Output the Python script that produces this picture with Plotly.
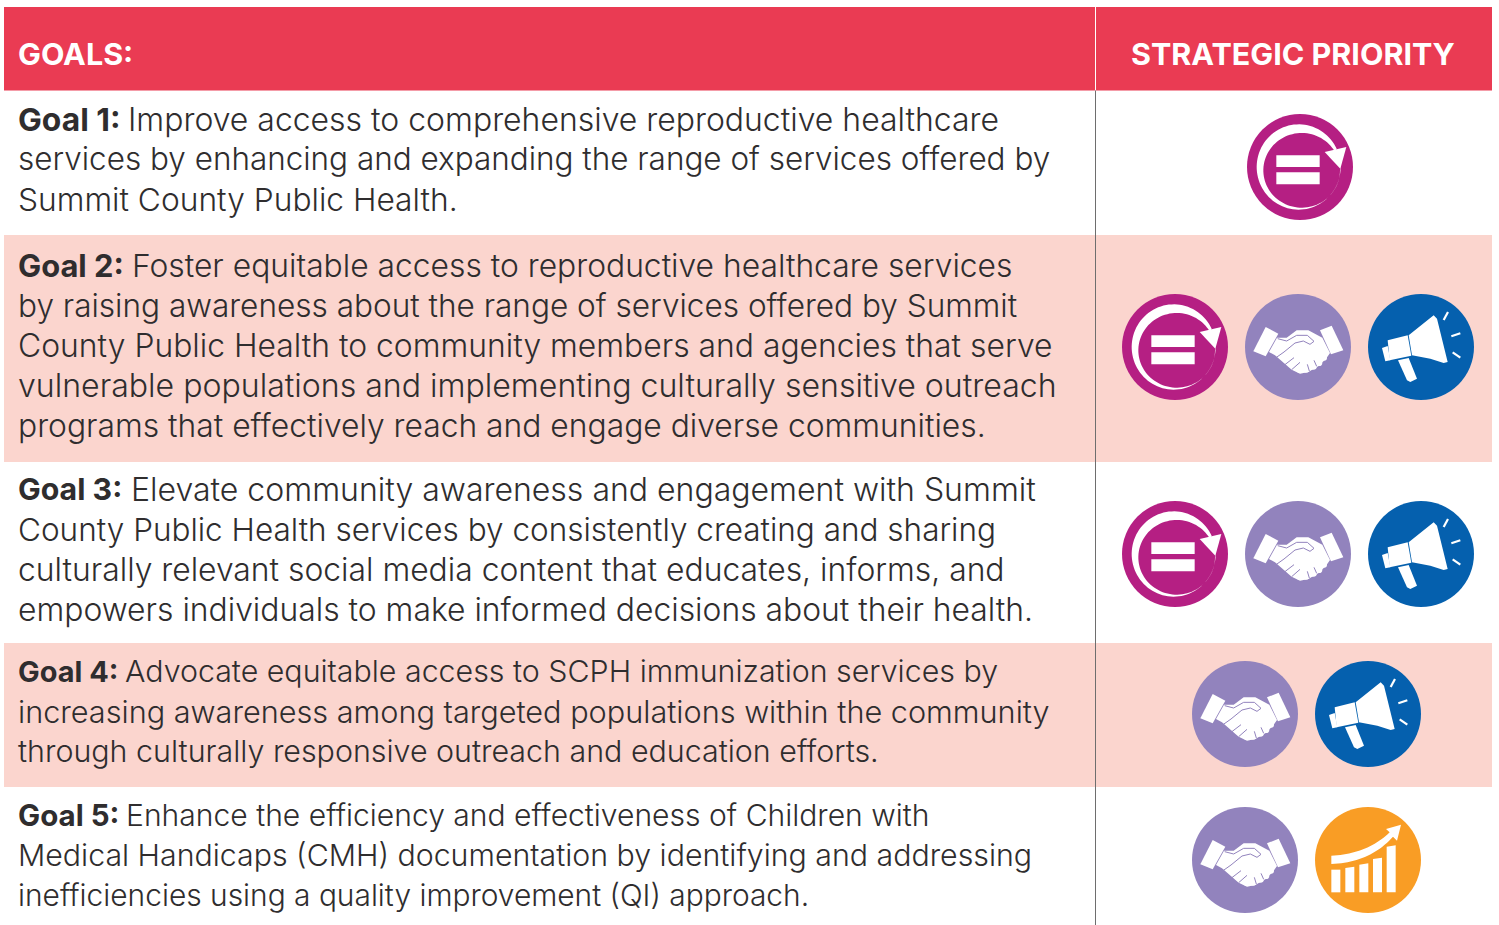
import numpy as np
import plotly.graph_objects as go

HEADERS = ["GOALS:", "STRATEGIC PRIORITY"]
GOAL_LABELS = ["Goal 1:", "Goal 2:", "Goal 3:", "Goal 4:", "Goal 5:"]
GOAL_LINES = [
    ["Improve access to comprehensive reproductive healthcare",
     "services by enhancing and expanding the range of services offered by",
     "Summit County Public Health."],
    ["Foster equitable access to reproductive healthcare services",
     "by raising awareness about the range of services offered by Summit",
     "County Public Health to community members and agencies that serve",
     "vulnerable populations and implementing culturally sensitive outreach",
     "programs that effectively reach and engage diverse communities."],
    ["Elevate community awareness and engagement with Summit",
     "County Public Health services by consistently creating and sharing",
     "culturally relevant social media content that educates, informs, and",
     "empowers individuals to make informed decisions about their health."],
    ["Advocate equitable access to SCPH immunization services by",
     "increasing awareness among targeted populations within the community",
     "through culturally responsive outreach and education efforts."],
    ["Enhance the efficiency and effectiveness of Children with",
     "Medical Handicaps (CMH) documentation by identifying and addressing",
     "inefficiencies using a quality improvement (QI) approach."],
]
LINE_SIZES = [
    [31.95, 31.46, 31.73],
    [31.8, 31.55, 31.85, 32.07, 31.8],
    [32.0, 31.5, 31.84, 31.85],
    [30.35, 30.65, 30.4],
    [30.07, 30.3, 29.9],
]
LABEL_SIZES = [31.8, 30.9, 30.3, 28.9, 29.5]
GOAL_ICONS = [
    ["equity"],
    ["equity", "partner", "voice"],
    ["equity", "partner", "voice"],
    ["partner", "voice"],
    ["partner", "growth"],
]
ROW_EDGES = [91, 235, 462, 643, 787, 925]
ROW_FILLS = ["#FFFFFF", "#FBD5CE", "#FFFFFF", "#FBD5CE", "#FFFFFF"]
FIRST_LINE_Y = [119, 265, 489, 671, 815]
FIRST_LINE_X = [126, 130, 129, 123, 124]
ICON_Y = [167, 347, 554, 714, 860]
ICON_X = [[1300], [1175, 1298, 1421], [1175, 1298, 1421], [1245, 1368], [1245, 1368]]

RED, TEXT = "#EA3B53", "#2F2D2E"
ICON_FILL = {"equity": "#B51F83", "partner": "#9283BD", "voice": "#0560AE", "growth": "#F99D25"}
FONT = "Inter"
HEAD_SIZE = 30.5

shapes, annotations = [], []


def rect(x0, y0, x1, y1, fill):
    shapes.append(dict(type="rect", x0=x0, y0=y0, x1=x1, y1=y1,
                       fillcolor=fill, line_width=0, layer="below"))


def poly(points, fill, line=None, width=0, closed=True):
    path = "M" + " L".join(f"{x:.2f},{y:.2f}" for x, y in points) + (" Z" if closed else "")
    shapes.append(dict(type="path", path=path, fillcolor=fill if closed else "rgba(0,0,0,0)",
                       line=dict(color=line or "rgba(0,0,0,0)", width=width), layer="above"))


def disc(cx, cy, r, fill):
    shapes.append(dict(type="circle", x0=cx - r, x1=cx + r, y0=cy - r, y1=cy + r,
                       fillcolor=fill, line_width=0, layer="above"))


def local(cx, cy, pts, oz):
    """Sketch coordinates are 3x-scale points around origin oz."""
    return [(cx + (x - oz[0]) / 3, cy + (y - oz[1]) / 3) for x, y in pts]


def quad(p0, p1, p2, n=24):
    t = np.linspace(0, 1, n)
    return [((1 - s) ** 2 * p0[0] + 2 * s * (1 - s) * p1[0] + s ** 2 * p2[0],
             (1 - s) ** 2 * p0[1] + 2 * s * (1 - s) * p1[1] + s ** 2 * p2[1]) for s in t]


def icon_equity(cx, cy, col):
    oz = (226, 200)
    a = np.radians(np.linspace(-25, -360, 90))
    outer = [(222 + 126 * np.cos(t), 200 + 128 * np.sin(t)) for t in a]
    b = np.radians(np.linspace(-360, -30, 90))
    inner = [(231 + 115 * np.cos(t), 210 + 112 * np.sin(t)) for t in b]
    poly(local(cx, cy, outer + inner, oz), "#FFFFFF")
    poly(local(cx, cy, [(300, 155), (365, 140), (347, 205)], oz), "#FFFFFF")
    poly(local(cx, cy, [(155, 165), (285, 165), (285, 200), (155, 200)], oz), "#FFFFFF")
    poly(local(cx, cy, [(155, 216), (285, 216), (285, 252), (155, 252)], oz), "#FFFFFF")


def icon_partner(cx, cy, col):
    oz = (594, 200)
    poly(local(cx, cy, [(497, 140), (535, 160), (497, 228), (460, 213)], oz), "#FFFFFF")
    poly(local(cx, cy, [(695, 136), (730, 210), (693, 222), (660, 150)], oz), "#FFFFFF")
    poly(local(cx, cy, [(531, 172), (560, 172), (590, 150), (625, 150), (667, 172), (690, 218),
                        (678, 235), (655, 258), (625, 275), (600, 280), (575, 268), (525, 225), (507, 215)], oz),
         "#FFFFFF")
    for x, y, r in [(600, 268, 10), (618, 266, 11), (640, 257, 11), (657, 247, 10), (672, 232, 9)]:
        p = local(cx, cy, [(x, y)], oz)[0]
        disc(p[0], p[1], r / 3, "#FFFFFF")
    poly(local(cx, cy, [(528, 232), (552, 215), (585, 188), (610, 182), (630, 192), (642, 183), (622, 165),
                        (590, 165), (560, 182), (533, 175)], oz), "rgba(0,0,0,0)", col, 1, closed=False)
    for seg in [[(552, 255), (582, 232)], [(575, 268), (600, 246)], [(628, 272), (622, 252)], [(650, 258), (642, 240)]]:
        poly(local(cx, cy, seg, oz), "rgba(0,0,0,0)", col, 1, closed=False)


def icon_voice(cx, cy, col):
    oz = (962, 200)
    poly(local(cx, cy, [(925, 165), (1000, 105), (1010, 115), (1042, 245), (1030, 248), (990, 235), (935, 225)], oz),
         "#FFFFFF")
    poly(local(cx, cy, [(862, 180), (922, 165), (933, 226), (868, 240)], oz), "#FFFFFF")
    poly(local(cx, cy, [(845, 203), (862, 197), (870, 240), (855, 243)], oz), "#FFFFFF")
    poly(local(cx, cy, [(893, 240), (925, 233), (950, 295), (930, 305), (920, 300)], oz), "#FFFFFF")
    for seg in [[(1030, 119), (1043, 95)], [(1053, 168), (1080, 159)], [(1057, 216), (1080, 232)]]:
        poly(local(cx, cy, seg, oz), "rgba(0,0,0,0)", "#FFFFFF", 2.2, closed=False)


def icon_growth(cx, cy, col):
    oz = (563, 208)
    for x0, top in [(453, 237), (495, 232), (537, 222), (578, 205), (619, 168)]:
        poly(local(cx, cy, [(x0, top), (x0 + 27, top - (4 if x0 > 453 else 0)), (x0 + 27, 305), (x0, 305)], oz),
             "#FFFFFF")
    band = quad((453, 195), (560, 190), (628, 125)) + [(617, 115), (662, 102), (650, 150), (638, 138)] + \
        quad((638, 138), (570, 215), (453, 220))
    poly(local(cx, cy, band, oz), "#FFFFFF")


ICON_DRAW = dict(equity=icon_equity, partner=icon_partner, voice=icon_voice, growth=icon_growth)


def text(x, y, s, color=TEXT, size=31.8, weight=300):
    annotations.append(dict(x=x, y=y, text=s, showarrow=False, xanchor="left", yanchor="middle",
                            xref="x", yref="y", align="left",
                            font=dict(family=FONT, size=size, color=color, weight=weight)))


# Header
rect(4, 7, 1492, 90.5, RED)
text(16, 53, f"<b>{HEADERS[0]}</b>", "#FFFFFF", HEAD_SIZE, 400)
text(1129, 53, f"<b>{HEADERS[1]}</b>", "#FFFFFF", HEAD_SIZE, 400)

# Rows
for i, label in enumerate(GOAL_LABELS):
    rect(4, ROW_EDGES[i], 1492, ROW_EDGES[i + 1], ROW_FILLS[i])
    text(16, FIRST_LINE_Y[i], f"<b>{label}</b>", size=LABEL_SIZES[i], weight=400)
    for j, line in enumerate(GOAL_LINES[i]):
        text(FIRST_LINE_X[i] if j == 0 else 16, FIRST_LINE_Y[i] + 40 * j, line, size=LINE_SIZES[i][j])
    for name, x in zip(GOAL_ICONS[i], ICON_X[i]):
        disc(x, ICON_Y[i], 53, ICON_FILL[name])
        ICON_DRAW[name](x, ICON_Y[i], ICON_FILL[name])

shapes.append(dict(type="line", x0=1095.5, x1=1095.5, y0=7, y1=90.5,
                   line=dict(color="#FFFFFF", width=1), layer="above"))
shapes.append(dict(type="line", x0=1095.5, x1=1095.5, y0=90.5, y1=925,
                   line=dict(color="#6E6E6E", width=1), layer="above"))

fig = go.Figure()
fig.add_trace(go.Scatter(x=[0, 1499], y=[0, 925], mode="markers", marker_opacity=0,
                         hoverinfo="skip", showlegend=False))
fig.update_layout(
    width=1499, height=925, margin=dict(l=0, r=0, t=0, b=0),
    paper_bgcolor="#FFFFFF", plot_bgcolor="#FFFFFF",
    xaxis=dict(range=[0, 1499], visible=False, fixedrange=True),
    yaxis=dict(range=[925, 0], visible=False, fixedrange=True),
    shapes=shapes, annotations=annotations,
)
fig.write_html("out.html", config=dict(displayModeBar=False),
               post_script="document.body.style.margin='0';document.body.style.overflow='hidden';")
